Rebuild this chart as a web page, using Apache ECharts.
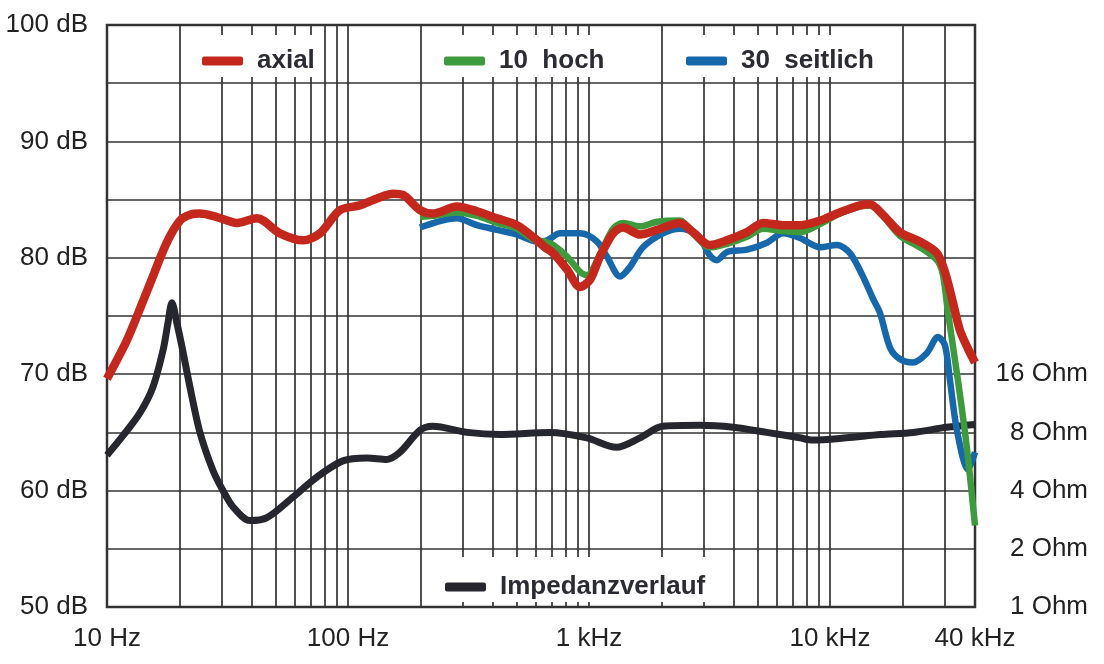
<!DOCTYPE html>
<html>
<head>
<meta charset="utf-8">
<script src="https://cdn.jsdelivr.net/npm/echarts@6/dist/echarts.min.js"></script>
<style>
html,body{margin:0;padding:0;background:#fff;}
#c{width:1104px;height:664px;}
</style>
</head>
<body>
<div id="c"></div>
<script>
// ---- data ----
const freqTicks = [10, 100, 1000, 10000, 40000];
const freqTickLabels = ['10 Hz', '100 Hz', '1 kHz', '10 kHz', '40 kHz'];
const gridFreqs = [20,30,40,50,60,70,80,90,100,200,300,400,500,600,700,800,900,1000,2000,3000,4000,5000,6000,7000,8000,9000,10000,20000,30000];
const ohmTicks = [1, 2, 4, 8, 16];

const freqAxial = [10, 11.9, 12.8, 15.1, 17.7, 20.1, 22.1, 24.3, 28.6, 34.6, 41.9, 52.2, 65.1, 76.5, 92.7, 112, 132, 154, 169, 199, 225, 283, 343, 415, 503, 586, 657, 711, 811, 918, 1009, 1111, 1259, 1385, 1629, 1915, 2386, 2703, 3178, 3740, 4529, 5278, 6385, 7510, 9093, 10990, 13310, 14650, 16590, 19500, 23600, 27800, 30000, 32100, 34600, 37400, 40000];
const dbAxial = [69.6, 72.6, 74.1, 77.8, 81.3, 83.2, 83.7, 83.8, 83.5, 83.0, 83.4, 82.1, 81.5, 82.1, 84.1, 84.5, 85.1, 85.5, 85.4, 84.1, 83.8, 84.4, 84.0, 83.4, 82.8, 81.8, 80.9, 80.4, 79.0, 77.5, 78.1, 80.1, 82.1, 82.6, 82.0, 82.4, 83.0, 82.2, 81.1, 81.5, 82.2, 83.0, 82.8, 82.8, 83.2, 83.9, 84.5, 84.6, 83.7, 82.2, 81.4, 80.4, 78.8, 76.5, 73.8, 72.2, 71.0];

const freqHoch = [199, 225, 283, 343, 415, 503, 586, 657, 711, 811, 918, 980, 1111, 1259, 1385, 1629, 1915, 2386, 2703, 3178, 3740, 4529, 5278, 6385, 7510, 9093, 10990, 13310, 14650, 16590, 19500, 23600, 27800, 29400, 30900, 33970, 37000, 40000];
const dbHoch = [83.5, 83.6, 83.9, 83.6, 83.0, 82.5, 81.6, 81.4, 81.1, 80.1, 78.8, 78.5, 80.3, 82.5, 83.0, 82.7, 83.1, 83.2, 82.1, 80.9, 81.2, 81.8, 82.5, 82.3, 82.2, 82.9, 83.8, 84.4, 84.5, 83.6, 81.9, 80.9, 79.8, 78.6, 75.3, 69.5, 63.7, 57.0];

const freqSeit = [199, 283, 343, 415, 503, 608, 670, 759, 918, 1079, 1188, 1345, 1479, 1675, 2028, 2386, 2806, 3178, 3397, 3740, 4529, 5480, 6385, 7510, 9093, 10690, 12110, 13710, 15080, 16110, 17740, 19510, 22090, 25230, 28050, 30000, 31480, 33650, 37400, 40000];
const dbSeit = [82.6, 83.4, 82.8, 82.4, 82.0, 81.4, 81.5, 82.1, 82.1, 81.4, 80.1, 78.4, 79.2, 80.9, 82.1, 82.5, 82.0, 80.2, 79.8, 80.5, 80.7, 81.3, 82.1, 81.7, 80.9, 81.1, 80.4, 78.4, 76.5, 75.3, 72.3, 71.3, 71.0, 71.8, 73.2, 72.5, 69.5, 65.2, 61.8, 63.3];

const freqImp = [10, 11.65, 13.7, 15.5, 17.1, 17.9, 18.6, 19.5, 20.5, 22.1, 24.3, 27.5, 30.3, 33.3, 39.2, 46.1, 59.1, 74.3, 95.2, 120, 145, 164, 199, 225, 312, 427, 687, 980, 1300, 1630, 2020, 2880, 3960, 5460, 7500, 8470, 11700, 16200, 22200, 30500, 40000];
const ohmImp = [6.1, 7.7, 10.1, 13.7, 21.4, 29.4, 37.5, 29.4, 22, 13.7, 8.0, 5.1, 4.0, 3.3, 2.8, 2.9, 3.7, 4.7, 5.7, 5.9, 5.8, 6.3, 8.2, 8.6, 8.0, 7.8, 8.0, 7.5, 6.7, 7.5, 8.6, 8.7, 8.5, 8.0, 7.5, 7.3, 7.5, 7.8, 8.0, 8.5, 8.8];

// ---- chart ----
const FONT = "'Liberation Sans', Arial, sans-serif";
const zip = (a, b) => a.map((v, i) => [v, b[i]]);
const chart = echarts.init(document.getElementById('c'), null, {renderer: 'canvas'});

const legendText = {fontFamily: FONT, fontWeight: 'bold', fontSize: 26, color: '#2b2b33', padding: [0, 0, 0, 9]};
function mkLegend(name, left, top, pad) {
  return {
    data: [name], left: left, top: top, orient: 'horizontal',
    backgroundColor: '#fff', padding: pad, selectedMode: false,
    icon: 'roundRect', itemWidth: 41, itemHeight: 9,
    textStyle: legendText, z: 6
  };
}

const option = {
  animation: false,
  backgroundColor: '#fff',
  grid: {left: 107, top: 25, right: 129, bottom: 57, show: true, borderColor: '#333', borderWidth: 2.5, backgroundColor: 'transparent'},
  legend: [
    mkLegend('axial', 192, 35, [13, 6, 3, 10]),
    mkLegend('10  hoch', 434, 35, [13, 6, 3, 10]),
    mkLegend('30  seitlich', 676, 35, [13, 6, 3, 10]),
    mkLegend('Impedanzverlauf', 435, 557, [17, 6, 2, 10])
  ],
  xAxis: {
    type: 'log', logBase: 10, min: 10, max: 40000,
    axisLine: {show: false}, axisTick: {show: false}, splitLine: {show: false},
    axisLabel: {
      customValues: freqTicks,
      formatter: v => { const i = freqTicks.findIndex(t => Math.abs(t - v) / t < 1e-6); return i >= 0 ? freqTickLabels[i] : ''; },
      fontFamily: FONT, fontSize: 26, color: '#222', margin: 19
    }
  },
  yAxis: [
    {
      type: 'value', min: 50, max: 100, interval: 5, position: 'left',
      axisLine: {show: false}, axisTick: {show: false},
      splitLine: {show: true, lineStyle: {color: '#333', width: 1.7}},
      axisLabel: {formatter: v => (v % 10 === 0 ? v + ' dB' : ''), fontFamily: FONT, fontSize: 26, color: '#222', margin: 19}
    },
    {
      type: 'log', logBase: 2, min: 1, max: 1024, position: 'right',
      axisLine: {show: false}, axisTick: {show: false}, splitLine: {show: false},
      axisLabel: {customValues: ohmTicks, formatter: v => Math.round(v) + ' Ohm', align: 'right', margin: 113, fontFamily: FONT, fontSize: 26, color: '#222'}
    }
  ],
  series: [
    {
      name: 'Impedanzverlauf', type: 'line', yAxisIndex: 1, data: zip(freqImp, ohmImp),
      showSymbol: false, smooth: 0.3, z: 2,
      lineStyle: {color: '#26262e', width: 7}, itemStyle: {color: '#26262e'},
      markLine: {
        silent: true, symbol: 'none', z: 1, animation: false,
        label: {show: false},
        lineStyle: {color: '#333', width: 1.7, type: 'solid'},
        emphasis: {disabled: true},
        data: gridFreqs.map(f => ({xAxis: f}))
      }
    },
    {
      name: '30  seitlich', type: 'line', data: zip(freqSeit, dbSeit),
      showSymbol: false, smooth: 0.3, z: 3,
      lineStyle: {color: '#1767ab', width: 6.5}, itemStyle: {color: '#1767ab'}
    },
    {
      name: '10  hoch', type: 'line', data: zip(freqHoch, dbHoch),
      showSymbol: false, smooth: 0.3, z: 3,
      lineStyle: {color: '#3d9b3d', width: 6.5}, itemStyle: {color: '#3d9b3d'}
    },
    {
      name: 'axial', type: 'line', data: zip(freqAxial, dbAxial),
      showSymbol: false, smooth: 0.3, z: 4,
      lineStyle: {color: '#c4281c', width: 8.5}, itemStyle: {color: '#c4281c'}
    }
  ]
};
chart.setOption(option);
</script>
</body>
</html>
